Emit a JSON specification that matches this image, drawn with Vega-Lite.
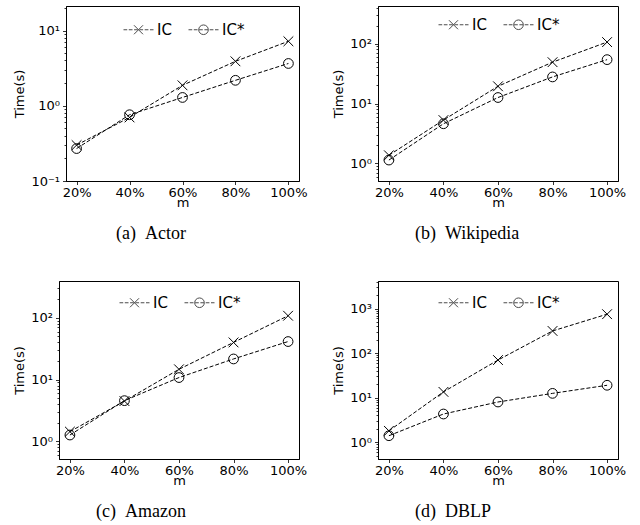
{
  "$schema": "https://vega.github.io/schema/vega-lite/v6.json",
  "background": "white",
  "padding": {"left": -14, "top": 1, "right": 5, "bottom": 2},
  "config": {
    "font": "DejaVu Sans",
    "view": {"stroke": "black", "strokeWidth": 1},
    "axis": {"grid": false, "domainColor": "black", "domainWidth": 1, "tickColor": "black", "tickWidth": 0.8, "labelColor": "black", "titleColor": "black", "labelFont": "DejaVu Sans", "titleFont": "DejaVu Sans", "labelFontSize": 13, "titleFontSize": 13, "titleFontWeight": "normal", "tickSize": 3.5, "labelPadding": 3, "labelOverlap": false, "labelBound": false},
    "axisX": {"labelAngle": 0, "titlePadding": -2.5, "labelPadding": 1.5},
    "axisY": {"titlePadding": 4},
    "title": {"font": "Liberation Serif", "fontSize": 18, "fontWeight": "normal", "color": "black", "orient": "bottom", "anchor": "start", "frame": "group", "offset": 15},
    "legend": {"orient": "none", "direction": "horizontal", "title": null, "symbolSize": 900, "symbolStrokeWidth": 1, "symbolStrokeColor": "black", "symbolFillColor": "transparent", "labelFont": "DejaVu Sans", "labelFontSize": 15, "labelColor": "black", "labelOffset": 3, "columnPadding": 14, "padding": 0}
  },
  "datasets": {
    "actor": [
      {"m": "20%", "series": "IC", "t": 0.30}, {"m": "40%", "series": "IC", "t": 0.70}, {"m": "60%", "series": "IC", "t": 1.87}, {"m": "80%", "series": "IC", "t": 3.9}, {"m": "100%", "series": "IC", "t": 7.2},
      {"m": "20%", "series": "IC*", "t": 0.27}, {"m": "40%", "series": "IC*", "t": 0.76}, {"m": "60%", "series": "IC*", "t": 1.29}, {"m": "80%", "series": "IC*", "t": 2.18}, {"m": "100%", "series": "IC*", "t": 3.65}
    ],
    "wiki": [
      {"m": "20%", "series": "IC", "t": 1.37}, {"m": "40%", "series": "IC", "t": 5.3}, {"m": "60%", "series": "IC", "t": 19.4}, {"m": "80%", "series": "IC", "t": 49}, {"m": "100%", "series": "IC", "t": 106},
      {"m": "20%", "series": "IC*", "t": 1.14}, {"m": "40%", "series": "IC*", "t": 4.6}, {"m": "60%", "series": "IC*", "t": 12.6}, {"m": "80%", "series": "IC*", "t": 27.8}, {"m": "100%", "series": "IC*", "t": 54}
    ],
    "amazon": [
      {"m": "20%", "series": "IC", "t": 1.44}, {"m": "40%", "series": "IC", "t": 4.5}, {"m": "60%", "series": "IC", "t": 14.7}, {"m": "80%", "series": "IC", "t": 40}, {"m": "100%", "series": "IC", "t": 108},
      {"m": "20%", "series": "IC*", "t": 1.27}, {"m": "40%", "series": "IC*", "t": 4.57}, {"m": "60%", "series": "IC*", "t": 10.8}, {"m": "80%", "series": "IC*", "t": 21.6}, {"m": "100%", "series": "IC*", "t": 41.3}
    ],
    "dblp": [
      {"m": "20%", "series": "IC", "t": 1.8}, {"m": "40%", "series": "IC", "t": 13.5}, {"m": "60%", "series": "IC", "t": 70}, {"m": "80%", "series": "IC", "t": 315}, {"m": "100%", "series": "IC", "t": 750},
      {"m": "20%", "series": "IC*", "t": 1.4}, {"m": "40%", "series": "IC*", "t": 4.3}, {"m": "60%", "series": "IC*", "t": 8.0}, {"m": "80%", "series": "IC*", "t": 12.5}, {"m": "100%", "series": "IC*", "t": 19}
    ],
    "none": []
  },
  "spacing": 32,
  "resolve": {"scale": {"shape": "independent"}},
  "vconcat": [
    {"hconcat": [
      {"width": 0, "height": 0, "view": {"stroke": null}, "data": {"name": "none"}, "mark": "point", "encoding": {}},
      {
        "width": 233, "height": 175,
        "data": {"name": "actor"},
        "title": {"text": "(a)\u00a0\u00a0Actor", "dx": 50},
        "layer": [
          {"mark": {"type": "line", "strokeDash": [4, 2], "strokeWidth": 1, "color": "black"},
           "encoding": {
             "x": {"field": "m", "type": "ordinal", "sort": ["20%", "40%", "60%", "80%", "100%"], "scale": {"type": "point", "padding": 0.2}, "axis": {"title": "m"}},
             "y": {"field": "t", "type": "quantitative", "scale": {"type": "log", "domain": [0.1, 21.2], "nice": false}, "axis": {"title": "Time(s)", "values": [0.1,0.2,0.3,0.4,0.5,0.6,0.7,0.8,0.9,1,2,3,4,5,6,7,8,9,10,20], "labelExpr": "abs(log(datum.value)/LN10 - round(log(datum.value)/LN10)) < 0.001 ? '10' + (round(log(datum.value)/LN10) < 0 ? '⁻' : '') + ['⁰','¹','²','³','⁴'][abs(round(log(datum.value)/LN10))] : ''", "tickSize": {"condition": {"test": "abs(log(datum.value)/LN10 - round(log(datum.value)/LN10)) < 0.001", "value": 3.5}, "value": 2}}},
             "detail": {"field": "series"}
           }},
          {"transform": [{"filter": "datum.series === 'IC'"}],
           "mark": {"type": "point", "shape": "M-1,-1L1,1M-1,1L1,-1", "filled": false, "strokeWidth": 1, "color": "black", "size": 95, "opacity": 1},
           "encoding": {"x": {"field": "m", "type": "ordinal", "sort": ["20%", "40%", "60%", "80%", "100%"]}, "y": {"field": "t", "type": "quantitative"}}},
          {"transform": [{"filter": "datum.series === 'IC*'"}],
           "mark": {"type": "point", "shape": "circle", "filled": false, "strokeWidth": 1, "color": "black", "size": 95, "opacity": 1},
           "encoding": {"x": {"field": "m", "type": "ordinal", "sort": ["20%", "40%", "60%", "80%", "100%"]}, "y": {"field": "t", "type": "quantitative"}}},
          {"transform": [{"filter": "false"}],
           "mark": {"type": "point", "filled": false, "strokeWidth": 1, "color": "black"},
           "encoding": {"x": {"field": "m", "type": "ordinal", "sort": ["20%", "40%", "60%", "80%", "100%"]}, "y": {"field": "t", "type": "quantitative"},
             "shape": {"field": "series", "type": "nominal", "scale": {"domain": ["IC", "IC*"], "range": ["M-1,0L-0.753,0M-0.647,0L-0.4,0M-0.293,0L-0.047,0M0.06,0L0.307,0M0.413,0L0.66,0M0.767,0L1,0M-0.3,-0.3L0.3,0.3M-0.3,0.3L0.3,-0.3", "M-1,0L-0.753,0M-0.647,0L-0.4,0M-0.293,0L-0.047,0M0.06,0L0.307,0M0.413,0L0.66,0M0.767,0L1,0M0.32,0A0.32,0.32 0 1,1 -0.32,0A0.32,0.32 0 1,1 0.32,0"]}, "legend": {"legendX": 57, "legendY": 8}}}}
        ]
      },
      {"width": 10, "height": 0, "view": {"stroke": null}, "data": {"name": "none"}, "mark": "point", "encoding": {}},
      {
        "width": 240, "height": 175,
        "data": {"name": "wiki"},
        "title": {"text": "(b)\u00a0\u00a0Wikipedia", "dx": 37},
        "layer": [
          {"mark": {"type": "line", "strokeDash": [4, 2], "strokeWidth": 1, "color": "black"},
           "encoding": {
             "x": {"field": "m", "type": "ordinal", "sort": ["20%", "40%", "60%", "80%", "100%"], "scale": {"type": "point", "padding": 0.2}, "axis": {"title": "m"}},
             "y": {"field": "t", "type": "quantitative", "scale": {"type": "log", "domain": [0.51, 424], "nice": false}, "axis": {"title": "Time(s)", "values": [0.6,0.7,0.8,0.9,1,2,3,4,5,6,7,8,9,10,20,30,40,50,60,70,80,90,100,200,300,400], "labelExpr": "abs(log(datum.value)/LN10 - round(log(datum.value)/LN10)) < 0.001 ? '10' + (round(log(datum.value)/LN10) < 0 ? '⁻' : '') + ['⁰','¹','²','³','⁴'][abs(round(log(datum.value)/LN10))] : ''", "tickSize": {"condition": {"test": "abs(log(datum.value)/LN10 - round(log(datum.value)/LN10)) < 0.001", "value": 3.5}, "value": 2}}},
             "detail": {"field": "series"}
           }},
          {"transform": [{"filter": "datum.series === 'IC'"}],
           "mark": {"type": "point", "shape": "M-1,-1L1,1M-1,1L1,-1", "filled": false, "strokeWidth": 1, "color": "black", "size": 95, "opacity": 1},
           "encoding": {"x": {"field": "m", "type": "ordinal", "sort": ["20%", "40%", "60%", "80%", "100%"]}, "y": {"field": "t", "type": "quantitative"}}},
          {"transform": [{"filter": "datum.series === 'IC*'"}],
           "mark": {"type": "point", "shape": "circle", "filled": false, "strokeWidth": 1, "color": "black", "size": 95, "opacity": 1},
           "encoding": {"x": {"field": "m", "type": "ordinal", "sort": ["20%", "40%", "60%", "80%", "100%"]}, "y": {"field": "t", "type": "quantitative"}}},
          {"transform": [{"filter": "false"}],
           "mark": {"type": "point", "filled": false, "strokeWidth": 1, "color": "black"},
           "encoding": {"x": {"field": "m", "type": "ordinal", "sort": ["20%", "40%", "60%", "80%", "100%"]}, "y": {"field": "t", "type": "quantitative"},
             "shape": {"field": "series", "type": "nominal", "scale": {"domain": ["IC", "IC*"], "range": ["M-1,0L-0.753,0M-0.647,0L-0.4,0M-0.293,0L-0.047,0M0.06,0L0.307,0M0.413,0L0.66,0M0.767,0L1,0M-0.3,-0.3L0.3,0.3M-0.3,0.3L0.3,-0.3", "M-1,0L-0.753,0M-0.647,0L-0.4,0M-0.293,0L-0.047,0M0.06,0L0.307,0M0.413,0L0.66,0M0.767,0L1,0M0.32,0A0.32,0.32 0 1,1 -0.32,0A0.32,0.32 0 1,1 0.32,0"]}, "legend": {"legendX": 60, "legendY": 3}}}}
        ]
      }
    ], "spacing": 7, "resolve": {"scale": {"shape": "independent"}}},
    {"hconcat": [
      {"width": 0, "height": 0, "view": {"stroke": null}, "data": {"name": "none"}, "mark": "point", "encoding": {}},
      {
        "width": 240, "height": 178,
        "data": {"name": "amazon"},
        "title": {"text": "(c)\u00a0\u00a0Amazon", "dx": 37},
        "layer": [
          {"mark": {"type": "line", "strokeDash": [4, 2], "strokeWidth": 1, "color": "black"},
           "encoding": {
             "x": {"field": "m", "type": "ordinal", "sort": ["20%", "40%", "60%", "80%", "100%"], "scale": {"type": "point", "padding": 0.2}, "axis": {"title": "m"}},
             "y": {"field": "t", "type": "quantitative", "scale": {"type": "log", "domain": [0.52, 394], "nice": false}, "axis": {"title": "Time(s)", "values": [0.6,0.7,0.8,0.9,1,2,3,4,5,6,7,8,9,10,20,30,40,50,60,70,80,90,100,200,300], "labelExpr": "abs(log(datum.value)/LN10 - round(log(datum.value)/LN10)) < 0.001 ? '10' + (round(log(datum.value)/LN10) < 0 ? '⁻' : '') + ['⁰','¹','²','³','⁴'][abs(round(log(datum.value)/LN10))] : ''", "tickSize": {"condition": {"test": "abs(log(datum.value)/LN10 - round(log(datum.value)/LN10)) < 0.001", "value": 3.5}, "value": 2}}},
             "detail": {"field": "series"}
           }},
          {"transform": [{"filter": "datum.series === 'IC'"}],
           "mark": {"type": "point", "shape": "M-1,-1L1,1M-1,1L1,-1", "filled": false, "strokeWidth": 1, "color": "black", "size": 95, "opacity": 1},
           "encoding": {"x": {"field": "m", "type": "ordinal", "sort": ["20%", "40%", "60%", "80%", "100%"]}, "y": {"field": "t", "type": "quantitative"}}},
          {"transform": [{"filter": "datum.series === 'IC*'"}],
           "mark": {"type": "point", "shape": "circle", "filled": false, "strokeWidth": 1, "color": "black", "size": 95, "opacity": 1},
           "encoding": {"x": {"field": "m", "type": "ordinal", "sort": ["20%", "40%", "60%", "80%", "100%"]}, "y": {"field": "t", "type": "quantitative"}}},
          {"transform": [{"filter": "false"}],
           "mark": {"type": "point", "filled": false, "strokeWidth": 1, "color": "black"},
           "encoding": {"x": {"field": "m", "type": "ordinal", "sort": ["20%", "40%", "60%", "80%", "100%"]}, "y": {"field": "t", "type": "quantitative"},
             "shape": {"field": "series", "type": "nominal", "scale": {"domain": ["IC", "IC*"], "range": ["M-1,0L-0.753,0M-0.647,0L-0.4,0M-0.293,0L-0.047,0M0.06,0L0.307,0M0.413,0L0.66,0M0.767,0L1,0M-0.3,-0.3L0.3,0.3M-0.3,0.3L0.3,-0.3", "M-1,0L-0.753,0M-0.647,0L-0.4,0M-0.293,0L-0.047,0M0.06,0L0.307,0M0.413,0L0.66,0M0.767,0L1,0M0.32,0A0.32,0.32 0 1,1 -0.32,0A0.32,0.32 0 1,1 0.32,0"]}, "legend": {"legendX": 60, "legendY": 6}}}}
        ]
      },
      {"width": 10, "height": 0, "view": {"stroke": null}, "data": {"name": "none"}, "mark": "point", "encoding": {}},
      {
        "width": 240, "height": 178,
        "data": {"name": "dblp"},
        "title": {"text": "(d)\u00a0\u00a0DBLP", "dx": 37},
        "layer": [
          {"mark": {"type": "line", "strokeDash": [4, 2], "strokeWidth": 1, "color": "black"},
           "encoding": {
             "x": {"field": "m", "type": "ordinal", "sort": ["20%", "40%", "60%", "80%", "100%"], "scale": {"type": "point", "padding": 0.2}, "axis": {"title": "m"}},
             "y": {"field": "t", "type": "quantitative", "scale": {"type": "log", "domain": [0.42, 4170], "nice": false}, "axis": {"title": "Time(s)", "values": [0.5,0.6,0.7,0.8,0.9,1,2,3,4,5,6,7,8,9,10,20,30,40,50,60,70,80,90,100,200,300,400,500,600,700,800,900,1000,2000,3000,4000], "labelExpr": "abs(log(datum.value)/LN10 - round(log(datum.value)/LN10)) < 0.001 ? '10' + (round(log(datum.value)/LN10) < 0 ? '⁻' : '') + ['⁰','¹','²','³','⁴'][abs(round(log(datum.value)/LN10))] : ''", "tickSize": {"condition": {"test": "abs(log(datum.value)/LN10 - round(log(datum.value)/LN10)) < 0.001", "value": 3.5}, "value": 2}}},
             "detail": {"field": "series"}
           }},
          {"transform": [{"filter": "datum.series === 'IC'"}],
           "mark": {"type": "point", "shape": "M-1,-1L1,1M-1,1L1,-1", "filled": false, "strokeWidth": 1, "color": "black", "size": 95, "opacity": 1},
           "encoding": {"x": {"field": "m", "type": "ordinal", "sort": ["20%", "40%", "60%", "80%", "100%"]}, "y": {"field": "t", "type": "quantitative"}}},
          {"transform": [{"filter": "datum.series === 'IC*'"}],
           "mark": {"type": "point", "shape": "circle", "filled": false, "strokeWidth": 1, "color": "black", "size": 95, "opacity": 1},
           "encoding": {"x": {"field": "m", "type": "ordinal", "sort": ["20%", "40%", "60%", "80%", "100%"]}, "y": {"field": "t", "type": "quantitative"}}},
          {"transform": [{"filter": "false"}],
           "mark": {"type": "point", "filled": false, "strokeWidth": 1, "color": "black"},
           "encoding": {"x": {"field": "m", "type": "ordinal", "sort": ["20%", "40%", "60%", "80%", "100%"]}, "y": {"field": "t", "type": "quantitative"},
             "shape": {"field": "series", "type": "nominal", "scale": {"domain": ["IC", "IC*"], "range": ["M-1,0L-0.753,0M-0.647,0L-0.4,0M-0.293,0L-0.047,0M0.06,0L0.307,0M0.413,0L0.66,0M0.767,0L1,0M-0.3,-0.3L0.3,0.3M-0.3,0.3L0.3,-0.3", "M-1,0L-0.753,0M-0.647,0L-0.4,0M-0.293,0L-0.047,0M0.06,0L0.307,0M0.413,0L0.66,0M0.767,0L1,0M0.32,0A0.32,0.32 0 1,1 -0.32,0A0.32,0.32 0 1,1 0.32,0"]}, "legend": {"legendX": 60, "legendY": 6}}}}
        ]
      }
    ], "spacing": 7, "resolve": {"scale": {"shape": "independent"}}}
  ]
}
